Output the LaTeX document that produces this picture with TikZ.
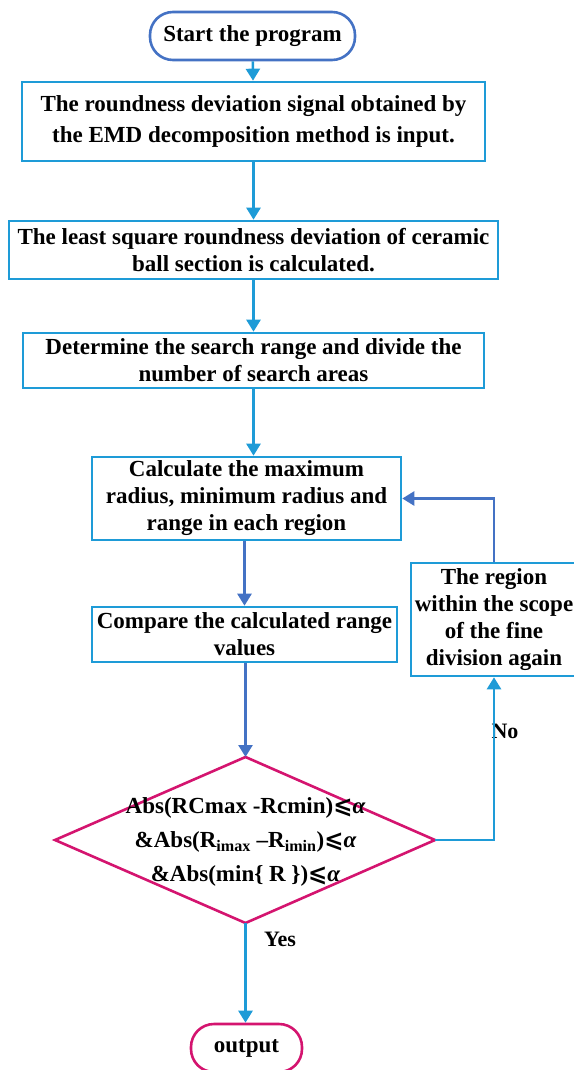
\documentclass[tikz,border=0pt]{standalone}
\usepackage{fontspec}
\setmainfont{Liberation Serif}
\newfontfamily\symfont{DejaVu Sans}
\usetikzlibrary{arrows.meta}
\definecolor{lblue}{HTML}{1E9BD7}
\definecolor{dblue}{HTML}{4472C4}
\definecolor{mag}{HTML}{D4146F}
\newcommand{\leqa}{{\symfont\bfseries ⩽}{\itshape α}}
\begin{document}
\begin{tikzpicture}[x=1pt,y=-1pt,
  every node/.style={font=\fontsize{23}{27}\selectfont\bfseries, align=center, inner sep=0pt},
  box/.style={draw=lblue, line width=2.6pt, rectangle},
  term/.style={line width=2.6pt, rectangle, rounded corners=23pt},
  lab/.style={font=\fontsize{22}{24}\selectfont\bfseries},
  arr/.style={line width=2.6pt, -{Triangle[length=12pt,width=14pt]}}
]
\useasboundingbox (0,0) rectangle (573,1070);

\node[term, draw=dblue, minimum width=205pt, minimum height=48pt] (start) at (252.5,36) {Start the program};
\node[box, minimum width=463pt, minimum height=79pt, font=\fontsize{23}{31}\selectfont\bfseries] (b1) at (253.5,121.5)
  {The roundness deviation signal obtained by\\the EMD decomposition method is input.};
\node[box, minimum width=489pt, minimum height=58pt] (b2) at (253.5,250)
  {The least square roundness deviation of ceramic\\ball section is calculated.};
\node[box, minimum width=461pt, minimum height=55pt] (b3) at (253.5,360.5)
  {Determine the search range and divide the\\number of search areas};
\node[box, minimum width=309pt, minimum height=83pt] (b4) at (246.5,498.5)
  {Calculate the maximum\\radius, minimum radius and\\range in each region};
\node[box, minimum width=305pt, minimum height=55pt] (b5) at (244.5,634.5)
  {Compare the calculated range\\values};
\node[box, minimum width=166pt, minimum height=113pt] (rb) at (494,619.5)
  {The region\\within the scope\\of the fine\\division again};

\coordinate (dt) at (245.5,757);
\coordinate (dr) at (435,840);
\coordinate (db) at (245.5,923);
\coordinate (dl) at (55,840);
\draw[draw=mag, line width=2.6pt, line join=miter] (dt) -- (dr) -- (db) -- (dl) -- cycle;
\node[font=\fontsize{23}{34}\selectfont\bfseries] (dtext) at (245.5,842)
  {Abs(RCmax -Rcmin)\leqa\\
   \&Abs(R\textsubscript{imax} –R\textsubscript{imin})\leqa\\
   \&Abs(min\{ R \})\leqa};

\node[term, draw=mag, minimum width=111pt, minimum height=48pt] (out) at (246.5,1048) {output};

\node[lab] (yes) at (280,939) {Yes};
\node[lab] (no) at (505,731) {No};

\draw[arr, draw=lblue] (start) -- (b1);
\draw[arr, draw=lblue] (b1) -- (b2);
\draw[arr, draw=lblue] (b2) -- (b3);
\draw[arr, draw=lblue] (b3.south -| 253.5,0) -- (b4.north -| 253.5,0);
\draw[arr, draw=dblue] (b4.south -| b5.north) -- (b5.north);
\draw[arr, draw=dblue] (b5.south -| dt) -- (dt);
\coordinate (c1) at (rb.south |- dr);
\draw[arr, draw=lblue] (dr) -- (c1) -- (rb.south);
\coordinate (c2) at (rb.north |- b4.east);
\draw[arr, draw=dblue] (rb.north) -- (c2) -- (b4.east);
\draw[arr, draw=lblue] (db) -- (db |- out.north);
\end{tikzpicture}
\end{document}
